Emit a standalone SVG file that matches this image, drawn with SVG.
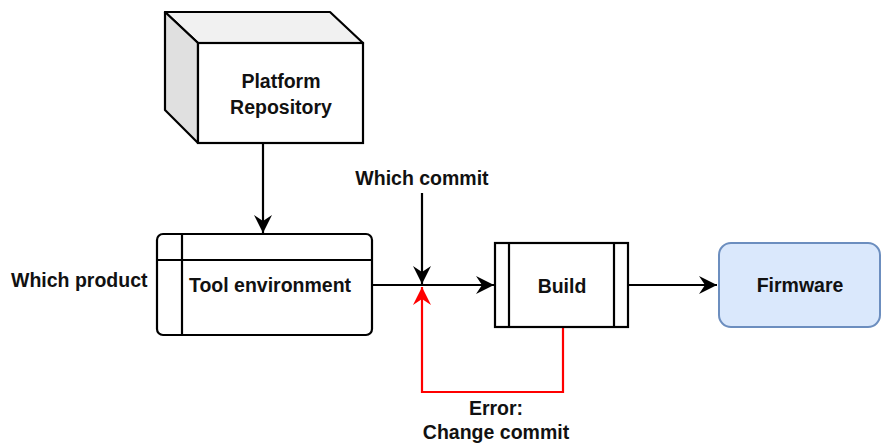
<svg xmlns="http://www.w3.org/2000/svg" width="881" height="445" viewBox="0 0 881 445">
<defs>
<style>
text{font-family:"Liberation Sans",Arial,sans-serif;font-weight:bold;font-size:19.5px;fill:#111}
.c{text-anchor:middle}
.s{stroke:#000;stroke-width:2.2;fill:#fff}
.e{fill:none;stroke:#000;stroke-width:2.2}
.r{fill:none;stroke:#ff0000;stroke-width:2.2}
</style>
<marker id="ak" markerUnits="userSpaceOnUse" markerWidth="20" markerHeight="20" refX="18" refY="9" orient="auto" overflow="visible"><path d="M0,0 L18,9 L0,18 L6,9 Z" fill="#000"/></marker>
<marker id="ar" markerUnits="userSpaceOnUse" markerWidth="20" markerHeight="20" refX="18" refY="9" orient="auto" overflow="visible"><path d="M0,0 L18,9 L0,18 L6,9 Z" fill="#ff0000"/></marker>
</defs>
<rect width="881" height="445" fill="#fff"/>
<g id="connectors">
<path class="e" d="M263,143 L263,233" marker-end="url(#ak)"/>
<path class="e" d="M372,285 L494,285" marker-end="url(#ak)"/>
<path class="e" d="M422,193 L422,284" marker-end="url(#ak)"/>
<path class="e" d="M628,285 L717,285" marker-end="url(#ak)"/>
<path class="r" d="M563,327 L563,392 L422,392 L422,287" marker-end="url(#ar)"/>
</g>
<g id="platform-repository">
<polygon points="165,12 330,12 363,43 198,43" fill="#f1f1f1" stroke="#000" stroke-width="2.2" stroke-linejoin="round"/>
<polygon points="165,12 198,43 198,143 165,110" fill="#e0e0e0" stroke="#000" stroke-width="2.2" stroke-linejoin="round"/>
<rect class="s" x="198" y="43" width="165" height="100"/>
<text class="c" x="281" y="88">Platform</text>
<text class="c" x="281" y="114">Repository</text>
</g>
<g id="tool-environment">
<rect class="s" x="157" y="234" width="215" height="101" rx="6"/>
<path class="e" d="M182,234 L182,335 M157,260 L372,260"/>
<text class="c" x="270" y="292">Tool environment</text>
</g>
<g id="which-product">
<text x="11" y="287">Which product</text>
</g>
<g id="which-commit">
<text class="c" x="422" y="185">Which commit</text>
</g>
<g id="build">
<rect class="s" x="495" y="243" width="133" height="84"/>
<path class="e" d="M509,243 L509,327 M614,243 L614,327"/>
<text class="c" x="562" y="293">Build</text>
</g>
<g id="firmware">
<rect x="719" y="243" width="161" height="84" rx="12" fill="#dae8fc" stroke="#6c8ebf" stroke-width="2"/>
<text class="c" x="800" y="292">Firmware</text>
</g>
<g id="error-label">
<text class="c" x="496" y="415">Error:</text>
<text class="c" x="496" y="439">Change commit</text>
</g>
</svg>
